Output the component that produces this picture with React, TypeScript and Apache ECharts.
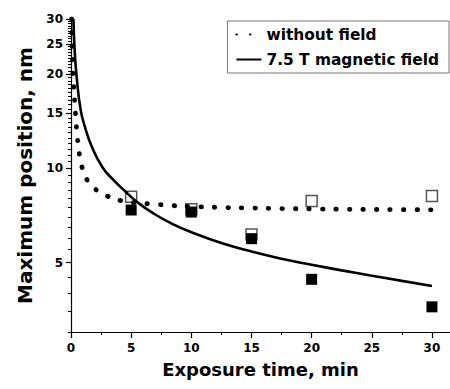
import React, { useEffect, useRef } from "react";
import * as echarts from "echarts";

// Fitted curve: without field (dotted)
const noFieldX = [0.05, 0.14, 0.22, 0.3, 0.38, 0.47, 0.6, 0.8, 1.16, 1.8, 3, 4.2, 5.5, 7, 8.5, 10, 12.5, 15, 17.5, 20, 22.5, 25, 27.5, 30];
const noFieldY = [30, 21, 18.5, 16.5, 14.8, 13.3, 11.9, 10.6, 9.5, 8.74, 8.16, 7.88, 7.75, 7.68, 7.6, 7.55, 7.5, 7.47, 7.44, 7.42, 7.4, 7.39, 7.38, 7.37];

// Fitted curve: 7.5 T magnetic field (solid)
const fieldX = [0.2, 0.3, 0.47, 0.8, 1.2, 1.7, 2.6, 3.5, 4.5, 5.5, 7, 8.5, 10, 12.5, 15, 17.5, 20, 22.5, 25, 27.5, 30];
const fieldY = [30, 24, 19.6, 15.4, 13.4, 11.8, 10.1, 9.2, 8.45, 7.8, 7.12, 6.62, 6.25, 5.77, 5.42, 5.14, 4.92, 4.72, 4.54, 4.37, 4.21];

// Measured points
const pointX = [5, 10, 15, 20, 30];
const openY = [8.12, 7.4, 6.15, 7.86, 8.16];
const filledY = [7.36, 7.25, 5.96, 4.42, 3.61];

const xMajor = [0, 5, 10, 15, 20, 25, 30];
const xMinor = [2.5, 7.5, 12.5, 17.5, 22.5, 27.5];
const yMajor = [5, 10, 15, 20, 25, 30];

const Y_MIN = 3;
const Y_MAX = 30;
const X_MIN = 0;
const X_MAX = 31.5;

const L = (v: number) => Math.log10(v);

export default function App() {
  const ref = useRef<HTMLDivElement>(null);

  useEffect(() => {
    if (!ref.current) return;
    const chart = echarts.init(ref.current, undefined, { renderer: "svg" });

    const yMinor: number[] = [];
    for (let v = Y_MIN; v <= Y_MAX + 1e-9; v += 0.5) {
      if (!yMajor.includes(v)) yMinor.push(v);
    }

    const font = "DejaVu Sans";
    const axisLine = { show: true, lineStyle: { color: "#000", width: 1.2 } };

    const pair = (xs: number[], ys: number[]) => xs.map((x, i) => [x, L(ys[i])]);

    chart.setOption({
      animation: false,
      backgroundColor: "#fff",
      grid: { left: 71, right: 0, top: 19, bottom: 57, outerBoundsMode: "none" },
      legend: {
        data: ["without field", "7.5 T magnetic field"],
        orient: "vertical",
        right: 1,
        top: 21,
        padding: [6, 10, 6, 8],
        itemWidth: 25,
        itemHeight: 14,
        itemGap: 10,
        borderColor: "#777",
        borderWidth: 1,
        backgroundColor: "#fff",
        itemStyle: { opacity: 0 },
        textStyle: { fontFamily: font, fontWeight: "bold", fontSize: 15.4, color: "#000" },
      },
      xAxis: [
        {
          type: "value",
          min: X_MIN,
          max: X_MAX,
          name: "Exposure time, min",
          nameLocation: "middle",
          nameGap: 28,
          nameTextStyle: { fontFamily: font, fontWeight: "bold", fontSize: 18, color: "#000" },
          axisLine,
          axisTick: { show: true, length: 6, customValues: xMajor, lineStyle: { color: "#000", width: 1.2 } },
          axisLabel: {
            customValues: xMajor,
            margin: 10,
            fontFamily: font,
            fontWeight: "bold",
            fontSize: 12,
            color: "#000",
          },
          splitLine: { show: false },
        },
        {
          type: "value",
          position: "bottom",
          min: X_MIN,
          max: X_MAX,
          axisLine: { show: false },
          axisTick: { show: true, length: 3, customValues: xMinor, lineStyle: { color: "#000", width: 1 } },
          axisLabel: { show: false },
          splitLine: { show: false },
        },
      ],
      yAxis: [
        {
          type: "value",
          min: L(Y_MIN),
          max: L(Y_MAX),
          name: "Maximum position, nm",
          nameLocation: "middle",
          nameRotate: 90,
          nameGap: 27,
          nameTextStyle: { fontFamily: font, fontWeight: "bold", fontSize: 20, color: "#000" },
          axisLine,
          axisTick: { show: true, length: 5, customValues: yMajor.map(L), lineStyle: { color: "#000", width: 1.2 } },
          axisLabel: {
            customValues: yMajor.map(L),
            margin: 8,
            fontFamily: font,
            fontWeight: "bold",
            fontSize: 12,
            color: "#000",
            formatter: (v: number) => String(Math.round(Math.pow(10, v))),
          },
          splitLine: { show: false },
        },
        {
          type: "value",
          position: "left",
          min: L(Y_MIN),
          max: L(Y_MAX),
          axisLine: { show: false },
          axisTick: { show: true, length: 3, customValues: yMinor.map(L), lineStyle: { color: "#000", width: 1 } },
          axisLabel: { show: false },
          splitLine: { show: false },
        },
      ],
      series: [
        {
          name: "open",
          type: "scatter",
          symbol: "rect",
          symbolSize: 11,
          itemStyle: { color: "#fff", borderColor: "#555", borderWidth: 1.5, opacity: 1 },
          data: pair(pointX, openY),
          z: 2,
        },
        {
          name: "filled",
          type: "scatter",
          symbol: "rect",
          symbolSize: 11,
          itemStyle: { color: "#000", opacity: 1 },
          data: pair(pointX, filledY),
          z: 3,
        },
        {
          name: "without field",
          type: "line",
          smooth: 0.5,
          showSymbol: false,
          symbol: "none",
          lineStyle: { color: "#000", width: 4.8, type: [0.5, 13], cap: "round" },
          itemStyle: { color: "#000" },
          data: pair(noFieldX, noFieldY),
          z: 4,
        },
        {
          name: "7.5 T magnetic field",
          type: "line",
          smooth: 0.5,
          showSymbol: false,
          symbol: "none",
          lineStyle: { color: "#000", width: 2.6 },
          itemStyle: { color: "#000" },
          data: pair(fieldX, fieldY),
          z: 4,
        },
      ],
    });

    return () => chart.dispose();
  }, []);

  return <div ref={ref} style={{ width: 450, height: 389, position: "absolute", left: 0, top: 0 }} />;
}
